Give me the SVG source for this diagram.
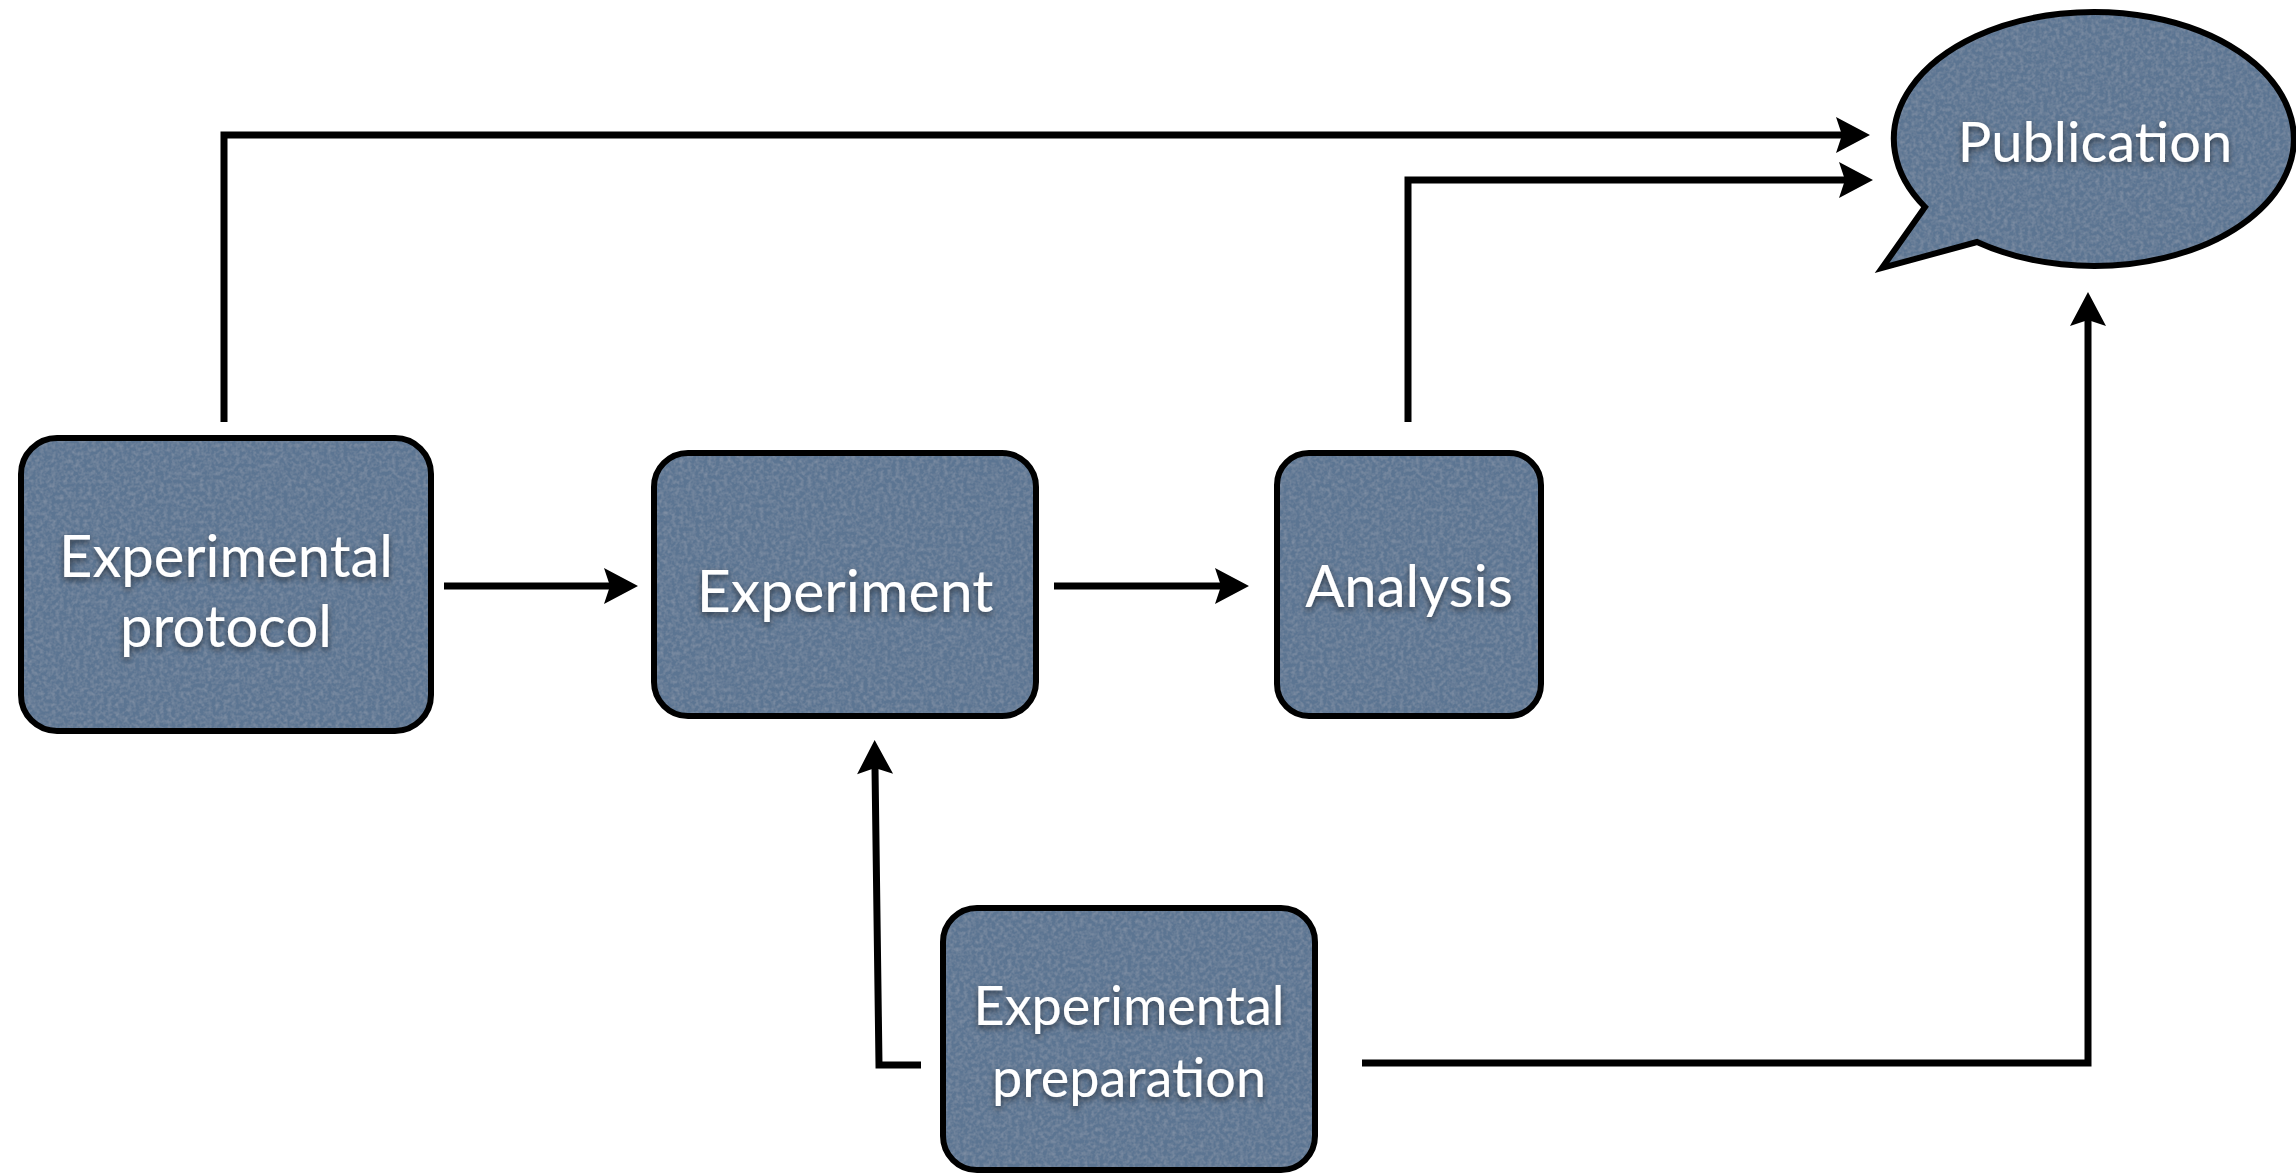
<svg xmlns="http://www.w3.org/2000/svg" width="2296" height="1175" viewBox="0 0 2296 1175">
  <style>
    .fill { fill: #5b7492; stroke: none; filter: url(#grain); }
    .outline { fill: none; stroke: #000; stroke-width: 6; }
    .label { font-family: Lato, "Open Sans", "Liberation Sans", sans-serif; fill: #fff; text-anchor: middle; filter: url(#textShadow); }
    .conn { fill: none; stroke: #000; stroke-width: 7; stroke-linejoin: miter; stroke-linecap: butt; }
  </style>
  <defs>
    <!-- soft dark shadow under the white labels -->
    <filter id="textShadow" x="-10%" y="-20%" width="120%" height="160%">
      <feDropShadow dx="0" dy="3" stdDeviation="3" flood-color="#000" flood-opacity="0.55"/>
    </filter>
    <!-- faint canvas grain on the node fills -->
    <filter id="grain" x="-2%" y="-2%" width="104%" height="104%">
      <feTurbulence type="fractalNoise" baseFrequency="0.25" numOctaves="3" seed="4" result="noise"/>
      <feColorMatrix in="noise" type="matrix" values="0 0 0 0 1  0 0 0 0 1  0 0 0 0 1  0.22 0 0 0 -0.08" result="speck"/>
      <feComposite in="speck" in2="SourceGraphic" operator="in" result="speckIn"/>
      <feMerge>
        <feMergeNode in="SourceGraphic"/>
        <feMergeNode in="speckIn"/>
      </feMerge>
    </filter>
    <marker id="arrow" markerUnits="userSpaceOnUse" markerWidth="40" markerHeight="40" viewBox="-2 -20 40 40" refX="6" refY="0" orient="auto">
      <path d="M0,-18 L34,0 L0,18 L6,0 Z" fill="#000"/>
    </marker>
    <path id="bubble" d="M1925,207 L1882,268 L1977,242 A200,127 0 1 0 1925,207 Z"/>
  </defs>

  <!-- connectors -->
  <g id="connectors">
    <path class="conn" d="M224,422 V135 H1842" marker-end="url(#arrow)"/>
    <path class="conn" d="M1408,422 V180 H1845" marker-end="url(#arrow)"/>
    <path class="conn" d="M444,586 H610" marker-end="url(#arrow)"/>
    <path class="conn" d="M1054,586 H1221" marker-end="url(#arrow)"/>
    <path class="conn" d="M921,1065 H879 L875,768" marker-end="url(#arrow)"/>
    <path class="conn" d="M1362,1063 H2088 V320" marker-end="url(#arrow)"/>
  </g>

  <!-- nodes -->
  <g id="node-protocol">
    <rect class="fill" x="21" y="438" width="410" height="293" rx="36" ry="36"/>
    <rect class="outline" x="21" y="438" width="410" height="293" rx="36" ry="36"/>
    <text class="label" font-size="58" x="226" y="577">Experimental</text>
    <text class="label" font-size="58" x="226" y="647">protocol</text>
  </g>

  <g id="node-experiment">
    <rect class="fill" x="654" y="453" width="382" height="263" rx="34" ry="34"/>
    <rect class="outline" x="654" y="453" width="382" height="263" rx="34" ry="34"/>
    <text class="label" font-size="59" x="845" y="612">Experiment</text>
  </g>

  <g id="node-analysis">
    <rect class="fill" x="1277" y="453" width="264" height="263" rx="32" ry="32"/>
    <rect class="outline" x="1277" y="453" width="264" height="263" rx="32" ry="32"/>
    <text class="label" font-size="58" x="1409" y="607">Analysis</text>
  </g>

  <g id="node-preparation">
    <rect class="fill" x="943" y="908" width="372" height="262" rx="34" ry="34"/>
    <rect class="outline" x="943" y="908" width="372" height="262" rx="34" ry="34"/>
    <text class="label" font-size="54" x="1129" y="1025">Experimental</text>
    <text class="label" font-size="54" x="1129" y="1097">preparation</text>
  </g>

  <g id="node-publication">
    <use href="#bubble" class="fill"/>
    <use href="#bubble" class="outline"/>
    <text class="label" font-size="56" x="2095" y="162">Publication</text>
  </g>
</svg>
